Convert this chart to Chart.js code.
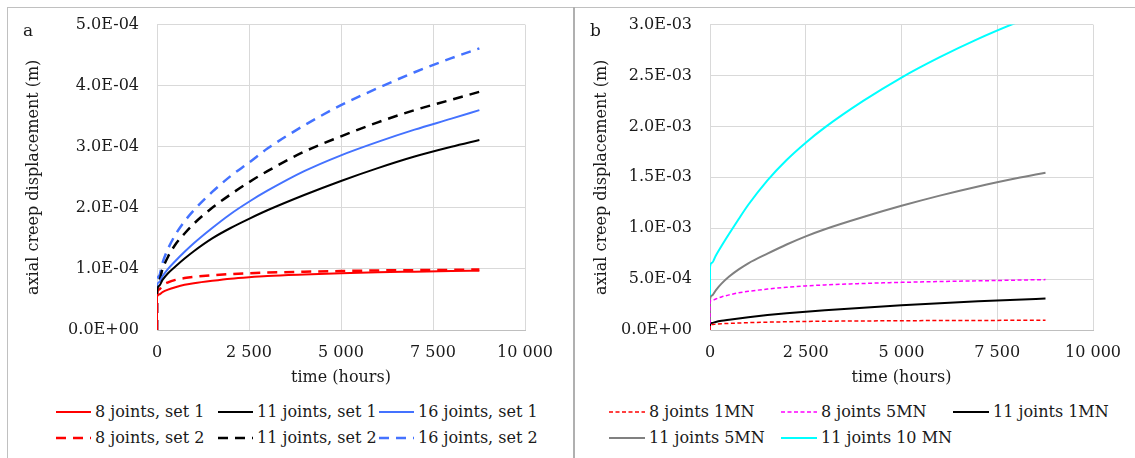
<!DOCTYPE html>
<html>
<head>
<meta charset="utf-8">
<title>Axial creep displacement</title>
<script src="https://cdn.jsdelivr.net/npm/chart.js@4.4.0/dist/chart.umd.min.js"></script>
<style>
  body { margin: 0; width: 1135px; height: 458px; background: #fff; position: relative; overflow: hidden;
         font-family: 'DejaVu Serif', serif; color: #1a1a1a; }
  .frame-top { position: absolute; left: 7px; top: 7px; width: 1128px; height: 1px; background: #c0c0c0; }
  .frame-left { position: absolute; left: 7px; top: 7px; width: 1px; height: 451px; background: #c0c0c0; }
  .frame-mid { position: absolute; left: 573px; top: 7px; width: 2px; height: 451px; background: #b0b0b0; }
  .panel-label { position: absolute; font-size: 17px; line-height: 20px; }
  canvas { position: absolute; }
  .legend { position: absolute; display: grid; row-gap: 7px; font-size: 16px; line-height: 19px; }
  .legend-item { display: flex; align-items: center; white-space: nowrap; }
  .legend-item svg { margin-right: 4px; flex: none; }
</style>
</head>
<body>
<div class="frame-top"></div>
<div class="frame-left"></div>
<div class="frame-mid"></div>
<canvas id="chartA" width="565" height="396" style="left:8px; top:-3px;"></canvas>
<canvas id="chartB" width="559" height="396" style="left:576px; top:-3px;"></canvas>
<div class="panel-label" style="left:23px; top:20px;">a</div>
<div class="panel-label" style="left:590px; top:20px;">b</div>
<div id="legendA" class="legend" style="left:56px; top:402px; grid-template-columns:162px 161px auto;"></div>
<div id="legendB" class="legend" style="left:609px; top:402px; grid-template-columns:172px 172px auto;"></div>

<script>
  // Tiempo (horas) comun a todas las series.
  const hours = [0, 1, 50, 150, 300, 500, 750, 1000, 1500, 2000, 2500, 3000, 4000, 5000, 6000, 7000, 8000, 8760];

  // Panel a: desplazamiento axial (m).
  const joints8Set1  = [0, 5.4e-5, 5.8e-5, 6.2e-5, 6.6e-5, 7.0e-5, 7.4e-5, 7.65e-5, 8.05e-5, 8.4e-5, 8.65e-5, 8.85e-5, 9.1e-5, 9.3e-5, 9.45e-5, 9.55e-5, 9.65e-5, 9.7e-5];
  const joints11Set1 = [0, 6.3e-5, 7.2e-5, 8.2e-5, 9.3e-5, 1.04e-4, 1.17e-4, 1.29e-4, 1.5e-4, 1.67e-4, 1.82e-4, 1.96e-4, 2.21e-4, 2.44e-4, 2.65e-4, 2.84e-4, 3.0e-4, 3.11e-4];
  const joints16Set1 = [0, 7.0e-5, 7.8e-5, 8.8e-5, 1.0e-4, 1.13e-4, 1.28e-4, 1.42e-4, 1.67e-4, 1.9e-4, 2.1e-4, 2.28e-4, 2.6e-4, 2.86e-4, 3.08e-4, 3.28e-4, 3.46e-4, 3.6e-4];
  const joints8Set2  = [0, 5.9e-5, 6.6e-5, 7.3e-5, 7.8e-5, 8.2e-5, 8.5e-5, 8.7e-5, 8.95e-5, 9.15e-5, 9.3e-5, 9.4e-5, 9.55e-5, 9.65e-5, 9.75e-5, 9.8e-5, 9.85e-5, 9.9e-5];
  const joints11Set2 = [0, 6.5e-5, 8.0e-5, 1.0e-4, 1.2e-4, 1.4e-4, 1.58e-4, 1.74e-4, 2.0e-4, 2.22e-4, 2.42e-4, 2.6e-4, 2.92e-4, 3.17e-4, 3.4e-4, 3.6e-4, 3.77e-4, 3.9e-4];
  const joints16Set2 = [0, 7.0e-5, 8.8e-5, 1.1e-4, 1.33e-4, 1.56e-4, 1.78e-4, 1.96e-4, 2.26e-4, 2.52e-4, 2.74e-4, 2.97e-4, 3.35e-4, 3.68e-4, 3.96e-4, 4.22e-4, 4.45e-4, 4.61e-4];

  // Panel b: desplazamiento axial (m) segun carga.
  const joints8Load1   = [0, 5.0e-5, 5.3e-5, 5.7e-5, 6.1e-5, 6.5e-5, 6.9e-5, 7.2e-5, 7.7e-5, 8.1e-5, 8.4e-5, 8.6e-5, 8.9e-5, 9.1e-5, 9.3e-5, 9.4e-5, 9.5e-5, 9.6e-5];
  const joints8Load5   = [0, 2.8e-4, 2.9e-4, 3.05e-4, 3.25e-4, 3.45e-4, 3.65e-4, 3.8e-4, 4.02e-4, 4.2e-4, 4.33e-4, 4.43e-4, 4.57e-4, 4.68e-4, 4.76e-4, 4.83e-4, 4.9e-4, 4.95e-4];
  const joints11Load1  = [0, 6.0e-5, 6.9e-5, 7.9e-5, 9.0e-5, 1.01e-4, 1.14e-4, 1.26e-4, 1.47e-4, 1.65e-4, 1.8e-4, 1.94e-4, 2.19e-4, 2.42e-4, 2.63e-4, 2.82e-4, 2.98e-4, 3.09e-4];
  const joints11Load5  = [0, 3.0e-4, 3.4e-4, 3.9e-4, 4.55e-4, 5.25e-4, 5.95e-4, 6.55e-4, 7.5e-4, 8.4e-4, 9.2e-4, 9.9e-4, 1.11e-3, 1.22e-3, 1.32e-3, 1.41e-3, 1.49e-3, 1.545e-3];
  const joints11Load10 = [0, 6.2e-4, 6.6e-4, 7.3e-4, 8.25e-4, 9.45e-4, 1.09e-3, 1.23e-3, 1.47e-3, 1.67e-3, 1.84e-3, 1.99e-3, 2.25e-3, 2.48e-3, 2.68e-3, 2.86e-3, 3.02e-3, 3.13e-3];

  // Ticks.
  const xTicks = [0, 2500, 5000, 7500, 10000];
  const xTickLabels = ['0', '2 500', '5 000', '7 500', '10 000'];
  const yTicksA = [0, 1e-4, 2e-4, 3e-4, 4e-4, 5e-4];
  const yTickLabelsA = ['0.0E+00', '1.0E-04', '2.0E-04', '3.0E-04', '4.0E-04', '5.0E-04'];
  const yTicksB = [0, 5e-4, 1e-3, 1.5e-3, 2e-3, 2.5e-3, 3e-3];
  const yTickLabelsB = ['0.0E+00', '5.0E-04', '1.0E-03', '1.5E-03', '2.0E-03', '2.5E-03', '3.0E-03'];

  const FONT = "'DejaVu Serif', serif";
  const GRID = '#d9d9d9';

  Chart.defaults.font.family = FONT;
  Chart.defaults.font.size = 16;
  Chart.defaults.color = '#1a1a1a';

  function series(label, values, color, width, dash) {
    return {
      label: label,
      data: hours.map(function (h, i) { return { x: h, y: values[i] }; }),
      borderColor: color,
      borderWidth: width,
      borderDash: dash || [],
      pointRadius: 0,
      fill: false,
      cubicInterpolationMode: 'monotone'
    };
  }

  function buildChart(canvasId, datasets, yTicks, yLabels, yWidth, padRight) {
    return new Chart(document.getElementById(canvasId), {
      type: 'line',
      data: { datasets: datasets },
      options: {
        responsive: false,
        animation: false,
        devicePixelRatio: 1,
        layout: { padding: { top: 0, right: padRight, left: 0, bottom: 0 } },
        plugins: { legend: { display: false }, tooltip: { enabled: false } },
        scales: {
          x: {
            type: 'linear',
            min: 0,
            max: 10000,
            afterBuildTicks: function (scale) { scale.ticks = xTicks.map(function (v) { return { value: v }; }); },
            afterFit: function (scale) { scale.height = 63; },
            grid: { color: GRID, drawTicks: false },
            border: { color: '#bfbfbf' },
            ticks: {
              padding: 13,
              maxRotation: 0,
              callback: function (value, index) { return xTickLabels[index]; }
            },
            title: { display: true, text: 'time (hours)', padding: { top: 0, bottom: 6 } }
          },
          y: {
            type: 'linear',
            min: 0,
            max: yTicks[yTicks.length - 1],
            afterBuildTicks: function (scale) { scale.ticks = yTicks.map(function (v) { return { value: v }; }); },
            afterFit: function (scale) { scale.width = yWidth; },
            grid: { color: GRID, drawTicks: false },
            border: { color: GRID },
            ticks: {
              padding: 18,
              callback: function (value, index) { return yLabels[index]; }
            },
            title: { display: true, text: 'axial creep displacement (m)', padding: { top: 16, bottom: 0 } }
          }
        }
      }
    });
  }

  const datasetsA = [
    series('8 joints, set 1', joints8Set1, '#ff0000', 2),
    series('11 joints, set 1', joints11Set1, '#000000', 2),
    series('16 joints, set 1', joints16Set1, '#4472ff', 2),
    series('8 joints, set 2', joints8Set2, '#ff0000', 2.5, [10, 7]),
    series('11 joints, set 2', joints11Set2, '#000000', 2.5, [10, 7]),
    series('16 joints, set 2', joints16Set2, '#4472ff', 2.5, [10, 7])
  ];

  const datasetsB = [
    series('8 joints 1MN', joints8Load1, '#ff0000', 1.5, [4, 2.5]),
    series('8 joints 5MN', joints8Load5, '#ff00ff', 1.5, [4, 2.5]),
    series('11 joints 1MN', joints11Load1, '#000000', 2),
    series('11 joints 5MN', joints11Load5, '#808080', 2),
    series('11 joints 10 MN', joints11Load10, '#00ffff', 2)
  ];

  buildChart('chartA', datasetsA, yTicksA, yTickLabelsA, 149, 48);
  buildChart('chartB', datasetsB, yTicksB, yTickLabelsB, 134, 42);

  // Leyenda HTML (texto real) con muestras de linea.
  function buildLegend(el, datasets, sampleWidth) {
    datasets.forEach(function (ds) {
      const item = document.createElement('div');
      item.className = 'legend-item';
      const dash = ds.borderDash.length ? ' stroke-dasharray="' + ds.borderDash.join(',') + '"' : '';
      item.innerHTML = '<svg width="' + sampleWidth + '" height="10"><line x1="0" y1="5" x2="' + sampleWidth +
        '" y2="5" stroke="' + ds.borderColor + '" stroke-width="' + ds.borderWidth + '"' + dash + '/></svg>' +
        '<span>' + ds.label + '</span>';
      el.appendChild(item);
    });
  }

  buildLegend(document.getElementById('legendA'), datasetsA, 35);
  buildLegend(document.getElementById('legendB'), datasetsB, 36);
</script>
</body>
</html>
